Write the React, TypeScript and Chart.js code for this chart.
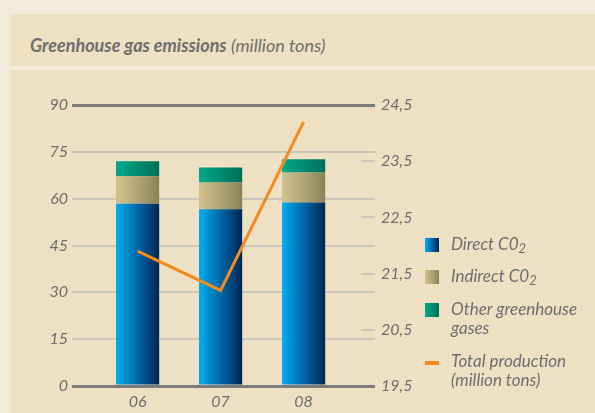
import React, { useEffect, useRef } from "react";
import { Chart, registerables } from "chart.js";

Chart.register(...registerables);

const years = ["06", "07", "08"];
const directCO2 = [58.4, 56.6, 58.8];
const indirectCO2 = [8.8, 8.6, 9.6];
const otherGases = [4.8, 4.8, 4.2];
const totalProduction = [21.9, 21.2, 24.2];
const leftTicks = [0, 15, 30, 45, 60, 75, 90];
const rightTicks = [19.5, 20.5, 21.5, 22.5, 23.5, 24.5];

const FONT = "Lato, 'Open Sans', sans-serif";
const TEXT = "#6e6e6e";
const BAR_PCT = 0.52;

const xVals = years.map((y) => parseInt(y, 10));

function gradientFill(from: string, mid: string, to: string) {
  return (ctx: any) => {
    const chart = ctx.chart;
    if (!chart.chartArea || ctx.dataIndex === undefined) return mid;
    const xs = chart.scales.x;
    const cx = xs.getPixelForValue(xVals[ctx.dataIndex]);
    const half = ((xs.getPixelForValue(1) - xs.getPixelForValue(0)) * BAR_PCT) / 2;
    const g = chart.ctx.createLinearGradient(cx - half, 0, cx + half, 0);
    g.addColorStop(0, from);
    g.addColorStop(0.5, mid);
    g.addColorStop(1, to);
    return g;
  };
}

const rightTickMarks = {
  id: "rightTickMarks",
  afterDatasetsDraw(chart: any) {
    const { ctx, chartArea } = chart;
    const s = chart.scales.y1;
    ctx.save();
    ctx.strokeStyle = "#cac6bc";
    ctx.lineWidth = 2;
    rightTicks.slice(1, -1).forEach((v) => {
      const y = Math.round(s.getPixelForValue(v));
      ctx.beginPath();
      ctx.moveTo(chartArea.right - 14, y);
      ctx.lineTo(chartArea.right, y);
      ctx.stroke();
    });
    ctx.restore();
  },
};

function ChartCanvas() {
  const ref = useRef<HTMLCanvasElement | null>(null);
  useEffect(() => {
    if (!ref.current) return;
    const chart = new Chart(ref.current, {
      type: "bar",
      data: {
        datasets: [
          {
            type: "line",
            label: "Total production (million tons)",
            data: xVals.map((x, i) => ({ x, y: totalProduction[i] })),
            yAxisID: "y1",
            borderColor: "#f28a1f",
            borderWidth: 3,
            pointRadius: 0,
            tension: 0,
            order: 0,
          } as any,
          {
            label: "Direct C0₂",
            data: xVals.map((x, i) => ({ x, y: directCO2[i] })),
            backgroundColor: gradientFill("#00aeef", "#0066a8", "#002652"),
            barPercentage: BAR_PCT,
            categoryPercentage: 1,
            order: 1,
          },
          {
            label: "Indirect C0₂",
            data: xVals.map((x, i) => ({ x, y: indirectCO2[i] })),
            backgroundColor: gradientFill("#d0c38c", "#b1a576", "#8a8158"),
            barPercentage: BAR_PCT,
            categoryPercentage: 1,
            order: 1,
          },
          {
            label: "Other greenhouse gases",
            data: xVals.map((x, i) => ({ x, y: otherGases[i] })),
            backgroundColor: gradientFill("#00a98a", "#008c72", "#006e58"),
            barPercentage: BAR_PCT,
            categoryPercentage: 1,
            order: 1,
          },
        ],
      },
      options: {
        responsive: false,
        animation: false,
        layout: { padding: { top: 105, left: 0, right: 0, bottom: 0 } },
        plugins: { legend: { display: false }, tooltip: { enabled: false } },
        scales: {
          x: {
            type: "linear",
            offset: false,
            min: 5.21,
            max: 8.86,
            stacked: true,
            afterBuildTicks: (s: any) => {
              s.ticks = xVals.map((v) => ({ value: v }));
            },
            afterFit: (s: any) => {
              s.height = 27;
            },
            ticks: {
              callback: (v: any) => years[xVals.indexOf(Number(v))] ?? "",
              font: { family: FONT, size: 16, style: "italic" },
              color: TEXT,
              padding: 6,
              maxRotation: 0,
              autoSkip: false,
            },
            grid: { display: false, drawTicks: false, offset: false },
            border: { display: false },
          },
          y: {
            position: "left",
            stacked: true,
            min: 0,
            max: 90,
            afterBuildTicks: (s: any) => {
              s.ticks = leftTicks.map((v) => ({ value: v }));
            },
            afterFit: (s: any) => {
              s.width = 72;
            },
            ticks: {
              font: { family: FONT, size: 16, style: "italic" },
              color: TEXT,
              padding: 4,
            },
            grid: {
              drawTicks: false,
              color: (c: any) =>
                c.tick && (c.tick.value === 0 || c.tick.value === 90) ? "#7b7b7b" : "#cac6bc",
              lineWidth: (c: any) =>
                c.tick && (c.tick.value === 0 || c.tick.value === 90) ? 3 : 2,
            },
            border: { display: false },
          },
          y1: {
            position: "right",
            min: 19.5,
            max: 24.5,
            afterBuildTicks: (s: any) => {
              s.ticks = rightTicks.map((v) => ({ value: v }));
            },
            afterFit: (s: any) => {
              s.width = 220;
            },
            ticks: {
              callback: (v: any) => Number(v).toFixed(1).replace(".", ","),
              font: { family: FONT, size: 16, style: "italic" },
              color: TEXT,
              padding: 6,
            },
            grid: { display: false, drawTicks: false },
            border: { display: false },
          },
        },
      },
      plugins: [rightTickMarks],
    });
    return () => chart.destroy();
  }, []);
  return (
    <canvas
      ref={ref}
      width={595}
      height={413}
      style={{ position: "absolute", left: 0, top: 0, width: 595, height: 413 }}
    />
  );
}

const legendItems = [
  { key: "direct", top: 238, box: "linear-gradient(90deg,#00aeef,#0066a8,#002652)", lines: [["Direct C0", "2"]] },
  { key: "indirect", top: 270, box: "linear-gradient(90deg,#d0c38c,#b1a576,#8a8158)", lines: [["Indirect C0", "2"]] },
  { key: "other", top: 303, box: "linear-gradient(90deg,#00a98a,#008c72,#006e58)", lines: [["Other greenhouse"], ["gases"]] },
  { key: "prod", top: 355, box: "line", lines: [["Total production"], ["(million tons)"]] },
];

export default function App() {
  return (
    <div
      style={{
        position: "fixed",
        left: 0,
        top: 0,
        width: 595,
        height: 413,
        background: "#f3ebd9",
        overflow: "hidden",
        fontFamily: FONT,
      }}
    >
      <div style={{ position: "absolute", left: 10, top: 14, width: 585, height: 52, background: "#ede0c3" }} />
      <div style={{ position: "absolute", left: 10, top: 70, width: 585, height: 343, background: "#ede0c3" }} />
      <div
        style={{
          position: "absolute",
          left: 30,
          top: 31,
          fontSize: 18,
          fontStyle: "italic",
          color: TEXT,
          whiteSpace: "nowrap",
          lineHeight: "28px",
        }}
      >
        <span style={{ fontWeight: 700 }}>Greenhouse gas emissions</span>
        <span style={{ fontWeight: 400 }}> (million tons)</span>
      </div>
      <ChartCanvas />
      {legendItems.map((it) => (
        <div key={it.key} style={{ position: "absolute", left: 425, top: it.top }}>
          {it.box === "line" ? (
            <div style={{ position: "absolute", left: 0, top: 6, width: 14, height: 4, background: "#f28a1f" }} />
          ) : (
            <div style={{ position: "absolute", left: 0, top: 0, width: 14, height: 14, background: it.box }} />
          )}
          <div
            style={{
              position: "absolute",
              left: 26,
              top: -4,
              fontSize: 17,
              fontStyle: "italic",
              color: TEXT,
              whiteSpace: "nowrap",
              lineHeight: "19px",
            }}
          >
            {it.lines.map((l, i) => (
              <div key={i}>
                {l[0]}
                {l[1] ? <sub style={{ fontSize: 13, verticalAlign: "-3px", lineHeight: 0 }}>{l[1]}</sub> : null}
              </div>
            ))}
          </div>
        </div>
      ))}
    </div>
  );
}
